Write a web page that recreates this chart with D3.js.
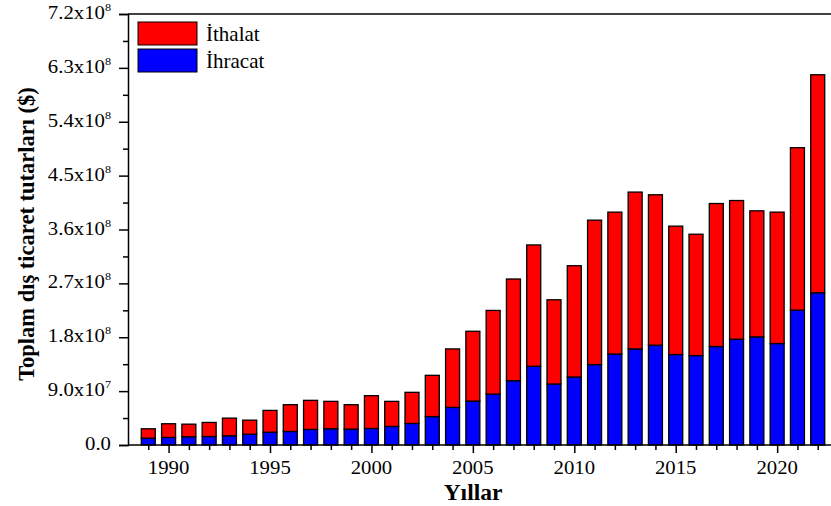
<!DOCTYPE html>
<html>
<head>
<meta charset="utf-8">
<script src="https://cdn.jsdelivr.net/npm/d3@7"></script>
<style>
  body { margin: 0; background: #fff; }
</style>
</head>
<body>
<div id="chart"></div>
<script>
// years on the x axis
const years = d3.range(1989, 2023);

// Ihracat (export), dollars
const ihracat = [1.14e7, 1.26e7, 1.37e7, 1.42e7, 1.54e7, 1.81e7, 2.14e7, 2.26e7, 2.60e7, 2.71e7,
                 2.65e7, 2.76e7, 3.10e7, 3.60e7, 4.75e7, 6.28e7, 7.34e7, 8.51e7, 1.075e8, 1.315e8,
                 1.019e8, 1.136e8, 1.343e8, 1.521e8, 1.605e8, 1.667e8, 1.511e8, 1.494e8, 1.645e8, 1.767e8,
                 1.806e8, 1.695e8, 2.253e8, 2.543e8];

// Ithalat (import), dollars
const ithalat = [1.57e7, 2.29e7, 2.11e7, 2.35e7, 2.95e7, 2.34e7, 3.64e7, 4.47e7, 4.86e7, 4.58e7,
                 4.08e7, 5.48e7, 4.19e7, 5.20e7, 6.89e7, 9.77e7, 1.166e8, 1.397e8, 1.698e8, 2.027e8,
                 1.407e8, 1.859e8, 2.413e8, 2.369e8, 2.620e8, 2.513e8, 2.145e8, 2.027e8, 2.389e8, 2.317e8,
                 2.106e8, 2.195e8, 2.714e8, 3.642e8];

// y tick values and their labels [mantissa, exponent]
const yTicks = [0, 9e7, 1.8e8, 2.7e8, 3.6e8, 4.5e8, 5.4e8, 6.3e8, 7.2e8];
const yTickLabels = [["0.0", null], ["9.0", 7], ["1.8", 8], ["2.7", 8], ["3.6", 8],
                     ["4.5", 8], ["5.4", 8], ["6.3", 8], ["7.2", 8]];
const xTickLabels = [1990, 1995, 2000, 2005, 2010, 2015, 2020];

const seriesNames = ["İthalat", "İhracat"];
const seriesColors = ["#ff0000", "#0000ff"];

let W = 831, H = 506;
let margin = {top: 14, left: 128, bottom: 61};
let serif = "'Liberation Serif', 'Times New Roman', 'DejaVu Serif', serif";
let stretch = 1.11;   // tick labels in the original look a bit wide

let svg = d3.select("#chart").append("svg")
    .attr("width", W)
    .attr("height", H)
    .attr("font-family", serif);

let xScale = d3.scaleLinear()
    .domain([1988, 2023])
    .range([margin.left, 838]);

let yScale = d3.scaleLinear()
    .domain([0, 7.2e8])
    .range([H - margin.bottom, margin.top]);

let barW = 14;

// stacked bars: export at the bottom, import on top
let rows = years.map((y, i) => ({year: y, ihracat: ihracat[i], ithalat: ithalat[i]}));
let stack = d3.stack().keys(["ihracat", "ithalat"])(rows);
let colors = {ihracat: seriesColors[1], ithalat: seriesColors[0]};

svg.append("g").selectAll("g")
    .data(stack)
    .join("g")
    .attr("fill", d => colors[d.key])
    .selectAll("rect")
    .data(d => d)
    .join("rect")
    .attr("x", d => xScale(d.data.year) - barW / 2)
    .attr("y", d => yScale(d[1]))
    .attr("width", barW)
    .attr("height", d => yScale(d[0]) - yScale(d[1]))
    .attr("stroke", "#000")
    .attr("stroke-width", 1.3);

// top frame line
let y0 = yScale(0), yTop = yScale(7.2e8);
svg.append("line").attr("x1", margin.left).attr("x2", 838).attr("y1", yTop).attr("y2", yTop)
    .attr("stroke", "#000").attr("stroke-width", 1.5);

// y axis
let yAxis = svg.append("g")
    .attr("transform", "translate(" + margin.left + ",0)")
    .call(d3.axisLeft(yScale).tickValues(yTicks).tickSize(9).tickFormat(""));
yAxis.select(".domain").attr("stroke-width", 1.5);
yAxis.selectAll(".tick line").attr("stroke-width", 1.5);

// minor y ticks
svg.append("g")
    .attr("transform", "translate(" + margin.left + ",0)")
    .call(d3.axisLeft(yScale).tickValues(d3.range(4.5e7, 7.2e8, 9e7)).tickSize(5).tickFormat(""))
    .call(g => g.select(".domain").remove())
    .selectAll(".tick line").attr("stroke-width", 1.5);

let yLab = svg.append("g");
yTicks.forEach((v, i) => {
    let lab = yTickLabels[i];
    let t = yLab.append("text")
        .attr("transform", "translate(111," + (yScale(v) + 5) + ")scale(" + stretch + ",1)")
        .attr("text-anchor", "end")
        .attr("font-size", 18.7);
    if (lab[1] === null) {
        t.text(lab[0]);
    } else {
        t.append("tspan").text(lab[0] + "x10");
        t.append("tspan").attr("dy", -8).attr("font-size", 11).text(lab[1]);
    }
});

// x axis
let xAxis = svg.append("g")
    .attr("transform", "translate(0," + y0 + ")")
    .call(d3.axisBottom(xScale).tickValues(xTickLabels).tickSize(8).tickFormat(""));
xAxis.select(".domain").attr("stroke-width", 1.5).attr("d", "M" + margin.left + ",0H838");
xAxis.selectAll(".tick line").attr("stroke-width", 1.5);

svg.append("g")
    .attr("transform", "translate(0," + y0 + ")")
    .call(d3.axisBottom(xScale).tickValues(years.filter(y => y % 5 !== 0)).tickSize(5).tickFormat(""))
    .call(g => g.select(".domain").remove())
    .selectAll(".tick line").attr("stroke-width", 1.5);

svg.append("g").selectAll("text")
    .data(xTickLabels)
    .join("text")
    .attr("transform", d => "translate(" + xScale(d) + ",474)scale(" + stretch + ",1)")
    .attr("text-anchor", "middle")
    .attr("font-size", 18.7)
    .text(d => d);

// axis titles
svg.append("text")
    .text("Yıllar")
    .attr("x", 473)
    .attr("y", 500)
    .attr("text-anchor", "middle")
    .attr("font-size", 23.5)
    .attr("font-weight", "bold");

svg.append("text")
    .text("Toplam dış ticaret tutarları ($)")
    .attr("transform", "translate(34," + 234 + ")rotate(-90)")
    .attr("text-anchor", "middle")
    .attr("font-size", 22.5)
    .attr("font-weight", "bold");

// legend
let legend = svg.append("g");
seriesNames.forEach((name, i) => {
    legend.append("rect")
        .attr("x", 138)
        .attr("y", 22 + i * 27)
        .attr("width", 59)
        .attr("height", 23)
        .attr("fill", seriesColors[i])
        .attr("stroke", "#000")
        .attr("stroke-width", 1);
    legend.append("text")
        .attr("x", 206)
        .attr("y", 41 + i * 27)
        .attr("font-size", 21)
        .text(name);
});
</script>
</body>
</html>
